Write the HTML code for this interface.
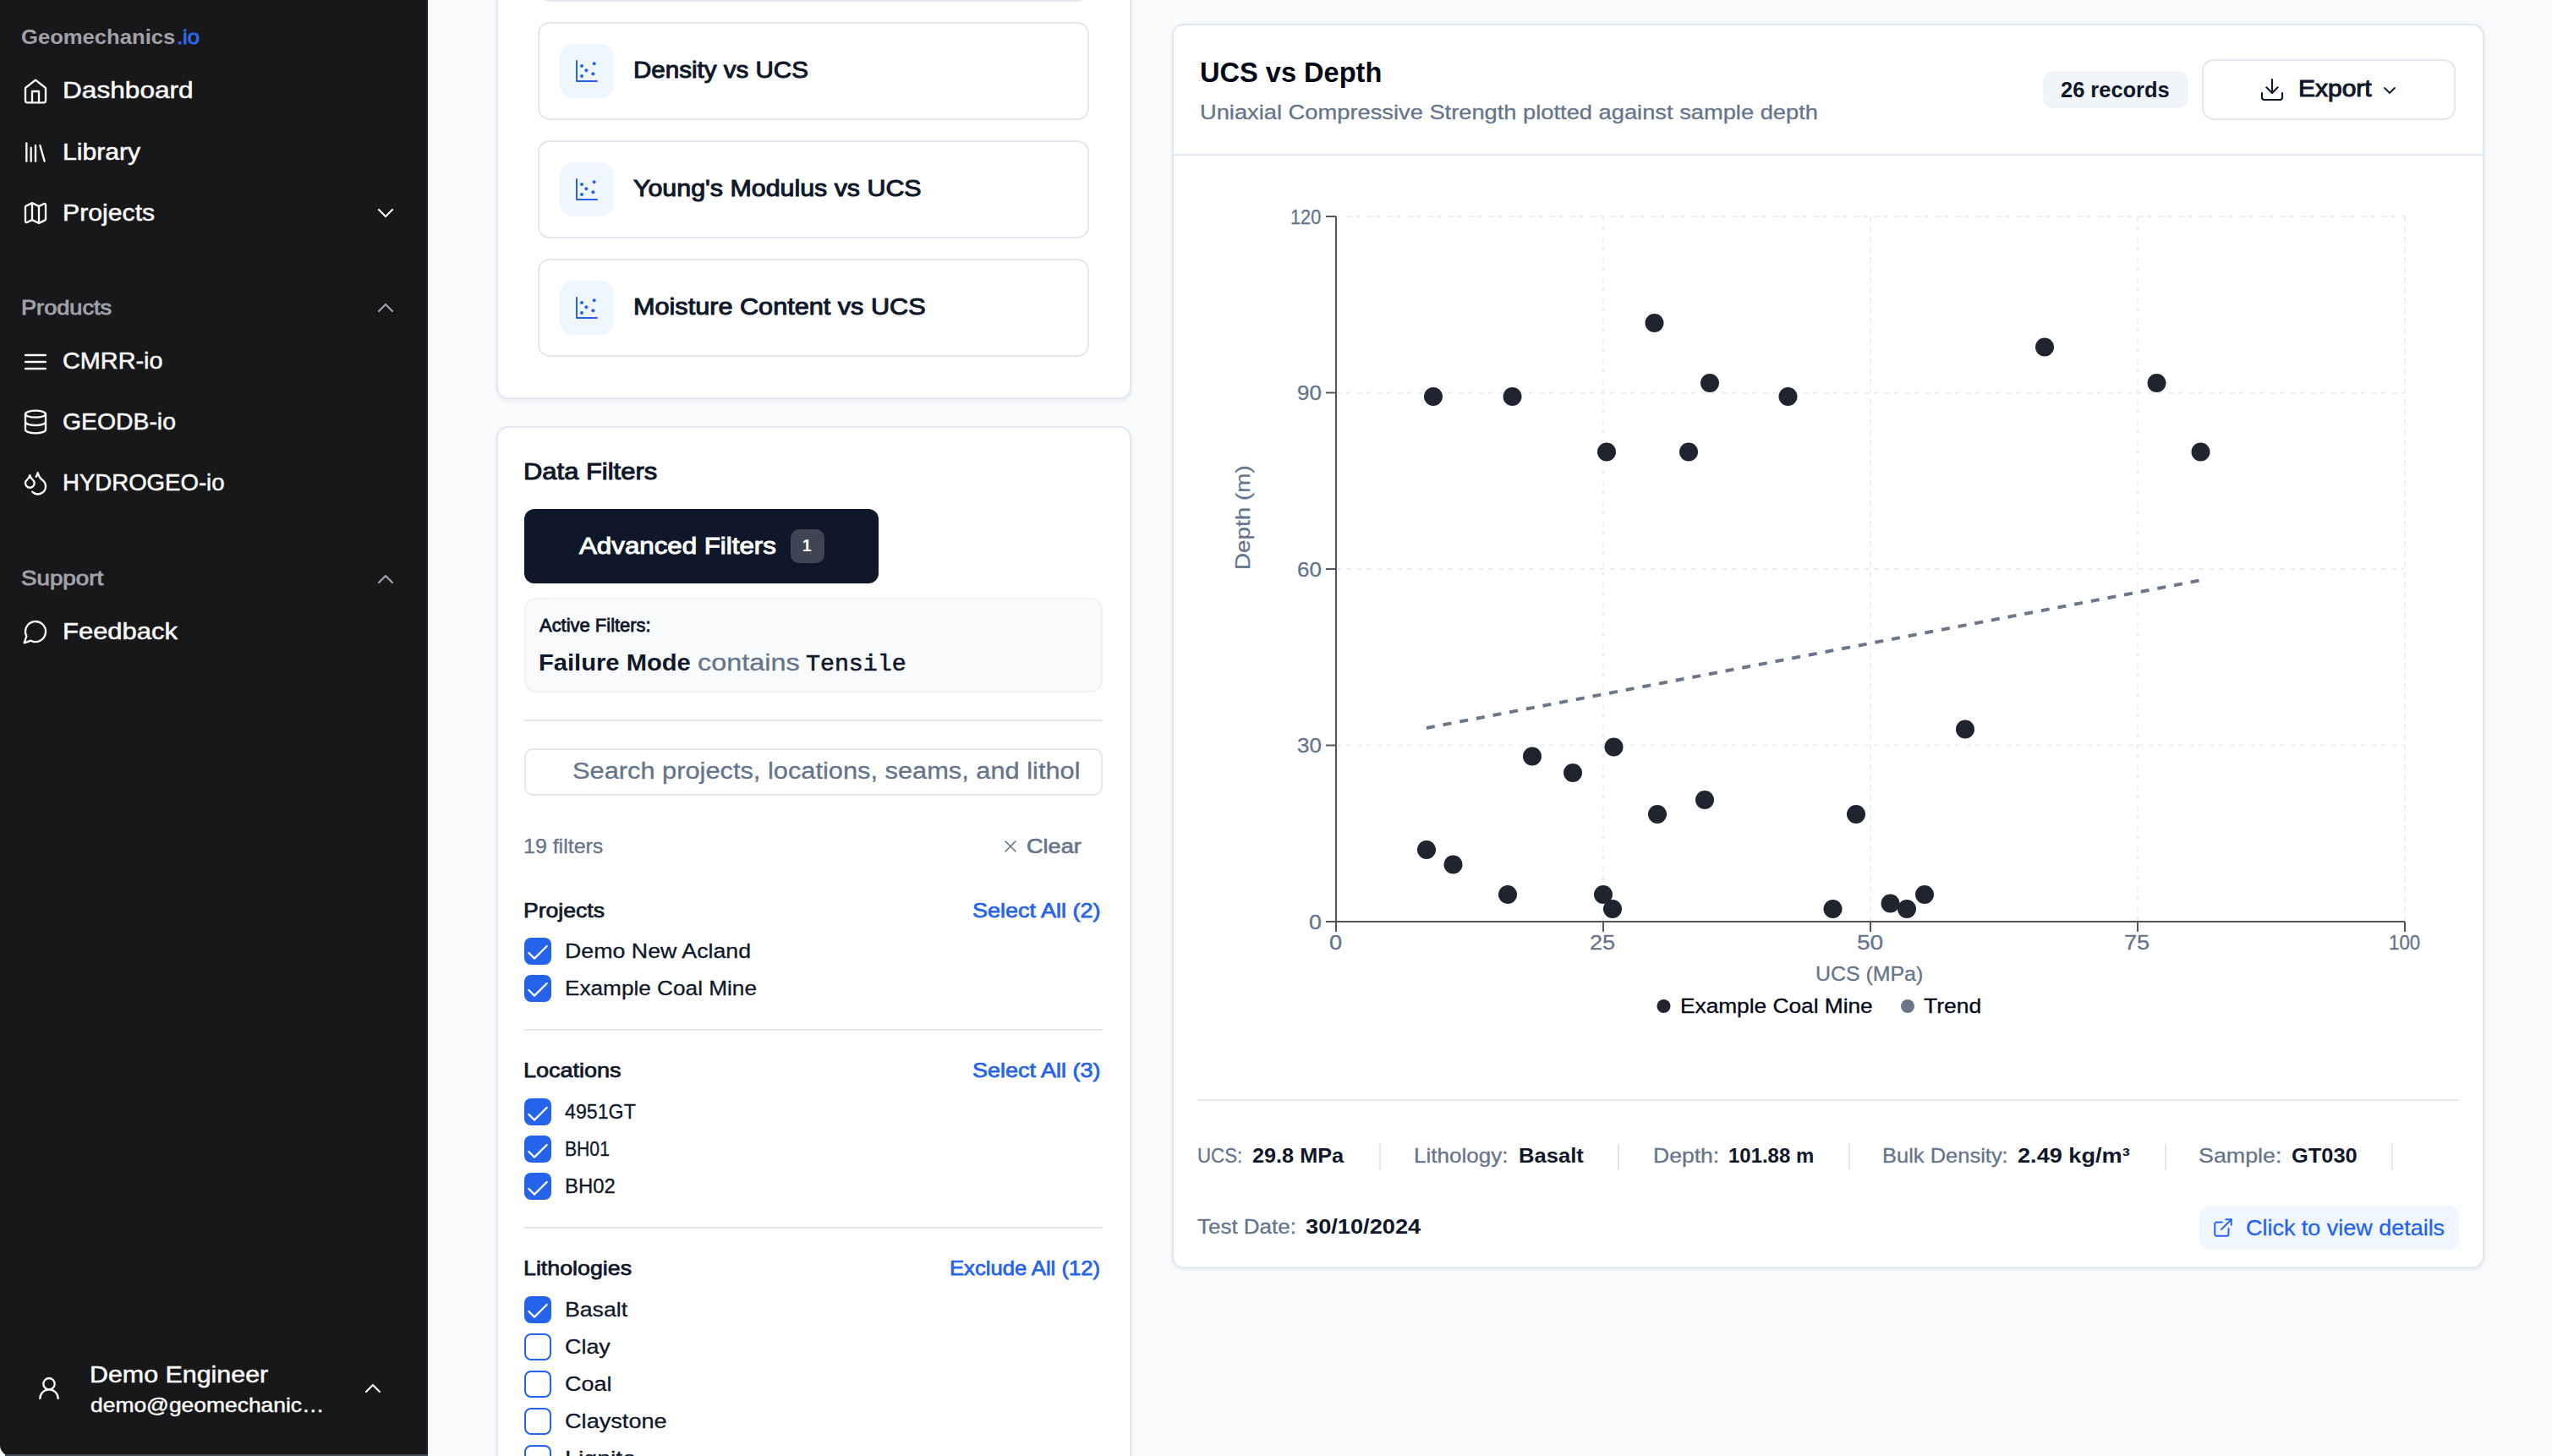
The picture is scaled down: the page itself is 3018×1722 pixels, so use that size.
<!DOCTYPE html>
<html lang="en">
<head>
<meta charset="utf-8">
<meta name="viewport" content="width=3018, initial-scale=1">
<title>Geomechanics.io – UCS vs Depth</title>
<style>
*{box-sizing:border-box;margin:0;padding:0}
html,body{width:3018px;height:1722px;overflow:hidden;background:#030712}
body{font-family:"Liberation Sans",Arial,sans-serif;-webkit-font-smoothing:antialiased}
.page{position:relative}
.abs,.t,.i{position:absolute}
.t{white-space:nowrap;font-weight:400;display:block;transform-origin:0 50%}
.i{display:block;overflow:visible}
</style>
</head>
<body>
<div class="page" style="width:3018px;height:1722px;background:#f8fafc;overflow:hidden;">
<aside class="abs" style="left:0px;top:0px;width:506px;height:1722px;background:#18181b;border-right:2px solid #1b2231;border-bottom-left-radius:13px;">
<span id="logo1" class="t" style="left:25.13px;top:27.61px;font-size:24.5px;line-height:32px;color:#a1a1aa;font-weight:700;transform:scaleX(1.0458);">Geomechanics</span>
<span id="logo2" class="t" style="left:209.33px;top:27.61px;font-size:24.5px;line-height:32px;color:#2f66ee;transform:scaleX(1.0467);-webkit-text-stroke:0.9px #2f66ee;">.io</span>
<svg class="i" style="left:26px;top:92px;color:#fafafa;" width="32" height="32" viewBox="0 0 24 24" fill="none" stroke="currentColor" stroke-width="1.75" stroke-linecap="round" stroke-linejoin="round"><path d="m3 9 9-7 9 7v11a2 2 0 0 1-2 2H5a2 2 0 0 1-2-2z"/><polyline points="9 22 9 12 15 12 15 22"/></svg>
<span id="nav_Dashboard" class="t" style="left:74.02px;top:89.3px;font-size:28px;line-height:36px;color:#fafafa;transform:scaleX(1.1293);-webkit-text-stroke:0.5px #fafafa;">Dashboard</span>
<svg class="i" style="left:26px;top:164.3px;color:#fafafa;" width="32" height="32" viewBox="0 0 24 24" fill="none" stroke="currentColor" stroke-width="1.75" stroke-linecap="round" stroke-linejoin="round"><path d="m16 6 4 14"/><path d="M12 6v14"/><path d="M8 8v12"/><path d="M4 4v16"/></svg>
<span id="nav_Library" class="t" style="left:74.02px;top:161.6px;font-size:28px;line-height:36px;color:#fafafa;transform:scaleX(1.076);-webkit-text-stroke:0.5px #fafafa;">Library</span>
<svg class="i" style="left:26px;top:236.3px;color:#fafafa;" width="32" height="32" viewBox="0 0 24 24" fill="none" stroke="currentColor" stroke-width="1.75" stroke-linecap="round" stroke-linejoin="round"><path d="M14.106 5.553a2 2 0 0 0 1.788 0l3.659-1.83A1 1 0 0 1 21 4.619v12.764a1 1 0 0 1-.553.894l-4.553 2.277a2 2 0 0 1-1.788 0l-4.212-2.106a2 2 0 0 0-1.788 0l-3.659 1.83A1 1 0 0 1 3 19.381V6.618a1 1 0 0 1 .553-.894l4.553-2.277a2 2 0 0 1 1.788 0z"/><path d="M15 5.764v15"/><path d="M9 3.236v15"/></svg>
<span id="nav_Projects" class="t" style="left:74.02px;top:233.6px;font-size:28px;line-height:36px;color:#fafafa;transform:scaleX(1.0795);-webkit-text-stroke:0.5px #fafafa;">Projects</span>
<svg class="i" style="left:440px;top:236px;color:#fafafa;" width="32" height="32" viewBox="0 0 24 24" fill="none" stroke="currentColor" stroke-width="1.6" stroke-linecap="round" stroke-linejoin="round"><path d="m6 9 6 6 6-6"/></svg>
<span id="lab_products" class="t" style="left:24.93px;top:347.51px;font-size:24.5px;line-height:32px;color:#a1a1aa;transform:scaleX(1.1077);-webkit-text-stroke:0.9px #a1a1aa;">Products</span>
<svg class="i" style="left:440px;top:348px;color:#a1a1aa;" width="32" height="32" viewBox="0 0 24 24" fill="none" stroke="currentColor" stroke-width="1.6" stroke-linecap="round" stroke-linejoin="round"><path d="m18 15-6-6-6 6"/></svg>
<svg class="i" style="left:26px;top:411.6px;color:#fafafa;" width="32" height="32" viewBox="0 0 24 24" fill="none" stroke="currentColor" stroke-width="1.75" stroke-linecap="round" stroke-linejoin="round"><line x1="3" x2="21" y1="12" y2="12"/><line x1="3" x2="21" y1="6" y2="6"/><line x1="3" x2="21" y1="18" y2="18"/></svg>
<span id="nav_CMRR-io" class="t" style="left:74.02px;top:409.4px;font-size:28px;line-height:36px;color:#fafafa;transform:scaleX(1.0295);-webkit-text-stroke:0.5px #fafafa;">CMRR-io</span>
<svg class="i" style="left:26px;top:483.1px;color:#fafafa;" width="32" height="32" viewBox="0 0 24 24" fill="none" stroke="currentColor" stroke-width="1.75" stroke-linecap="round" stroke-linejoin="round"><ellipse cx="12" cy="5" rx="9" ry="3"/><path d="M3 5V19A9 3 0 0 0 21 19V5"/><path d="M3 12A9 3 0 0 0 21 12"/></svg>
<span id="nav_GEODB-io" class="t" style="left:74.02px;top:480.9px;font-size:28px;line-height:36px;color:#fafafa;transform:scaleX(1.0125);-webkit-text-stroke:0.5px #fafafa;">GEODB-io</span>
<svg class="i" style="left:26px;top:555.2px;color:#fafafa;" width="32" height="32" viewBox="0 0 24 24" fill="none" stroke="currentColor" stroke-width="1.75" stroke-linecap="round" stroke-linejoin="round"><path d="M7 16.3c2.2 0 4-1.83 4-4.05 0-1.16-.57-2.26-1.71-3.19S7.29 6.75 7 5.3c-.29 1.45-1.14 2.84-2.29 3.76S3 11.1 3 12.25c0 2.22 1.8 4.05 4 4.05z"/><path d="M12.56 6.6A10.97 10.97 0 0 0 14 3.02c.5 2.5 2 4.9 4 6.5s3 3.5 3 5.5a6.98 6.98 0 0 1-11.91 4.97"/></svg>
<span id="nav_HYDROGEO-io" class="t" style="left:74.02px;top:553px;font-size:28px;line-height:36px;color:#fafafa;transform:scaleX(0.9852);-webkit-text-stroke:0.5px #fafafa;">HYDROGEO-io</span>
<span id="lab_support" class="t" style="left:24.93px;top:667.81px;font-size:24.5px;line-height:32px;color:#a1a1aa;transform:scaleX(1.1315);-webkit-text-stroke:0.9px #a1a1aa;">Support</span>
<svg class="i" style="left:440px;top:668.5px;color:#a1a1aa;" width="32" height="32" viewBox="0 0 24 24" fill="none" stroke="currentColor" stroke-width="1.6" stroke-linecap="round" stroke-linejoin="round"><path d="m18 15-6-6-6 6"/></svg>
<svg class="i" style="left:26px;top:730.6px;color:#fafafa;" width="32" height="32" viewBox="0 0 24 24" fill="none" stroke="currentColor" stroke-width="1.75" stroke-linecap="round" stroke-linejoin="round"><path d="M7.9 20A9 9 0 1 0 4 16.1L2 22Z"/></svg>
<span id="nav_Feedback" class="t" style="left:74.02px;top:729.2px;font-size:28px;line-height:36px;color:#fafafa;transform:scaleX(1.106);-webkit-text-stroke:0.5px #fafafa;">Feedback</span>
<svg class="i" style="left:42.2px;top:1626px;color:#fafafa;" width="32" height="32" viewBox="0 0 24 24" fill="none" stroke="currentColor" stroke-width="1.75" stroke-linecap="round" stroke-linejoin="round"><circle cx="12" cy="8" r="5"/><path d="M20 21a8 8 0 0 0-16 0"/></svg>
<span id="user1" class="t" style="left:106.32px;top:1607.8px;font-size:28px;line-height:36px;color:#fafafa;transform:scaleX(1.0855);-webkit-text-stroke:0.5px #fafafa;">Demo Engineer</span>
<span id="user2" class="t" style="left:106.53px;top:1646.11px;font-size:24.5px;line-height:32px;color:#fafafa;transform:scaleX(1.0784);-webkit-text-stroke:0.45px #fafafa;">demo@geomechanic…</span>
<svg class="i" style="left:424.5px;top:1626px;color:#fafafa;" width="32" height="32" viewBox="0 0 24 24" fill="none" stroke="currentColor" stroke-width="1.6" stroke-linecap="round" stroke-linejoin="round"><path d="m18 15-6-6-6 6"/></svg>
<div class="abs" style="left:6px;top:1720px;width:500px;height:2px;background:#454954;"></div>
</aside>
<section class="abs" style="left:587px;top:-40px;width:751px;height:512px;background:#fff;border:2px solid #e2e8f0;border-radius:14px;box-shadow:0 2px 5px rgba(15,23,42,.07);">
<div class="abs" style="left:47px;top:-76px;width:652px;height:116px;border:2px solid #e2e8f0;border-radius:14px;background:#fff;"></div>
<div class="abs" style="left:47px;top:64px;width:652px;height:116px;border:2px solid #e2e8f0;border-radius:14px;background:#fff;">
<div class="abs" style="left:24px;top:24px;width:64px;height:64px;background:#eff6ff;border-radius:16px;"></div>
<svg class="i" style="left:40px;top:40px;color:#2563eb;" width="32" height="32" viewBox="0 0 24 24" fill="none" stroke="currentColor" stroke-width="1.5" stroke-linecap="round" stroke-linejoin="round"><g fill="currentColor" stroke="none"><circle cx="7.5" cy="7.5" r="1.5"/><circle cx="18.5" cy="5.5" r="1.5"/><circle cx="11.5" cy="11.5" r="1.5"/><circle cx="7.5" cy="16.5" r="1.5"/><circle cx="17.5" cy="14.5" r="1.5"/></g><path d="M3 3v18h18"/></svg>
<span id="ct_Dens" class="t" style="left:111.42px;top:37.3px;font-size:28px;line-height:36px;color:#0f172a;transform:scaleX(1.0554);-webkit-text-stroke:1.0px #0f172a;">Density vs UCS</span>
</div>
<div class="abs" style="left:47px;top:204px;width:652px;height:116px;border:2px solid #e2e8f0;border-radius:14px;background:#fff;">
<div class="abs" style="left:24px;top:24px;width:64px;height:64px;background:#eff6ff;border-radius:16px;"></div>
<svg class="i" style="left:40px;top:40px;color:#2563eb;" width="32" height="32" viewBox="0 0 24 24" fill="none" stroke="currentColor" stroke-width="1.5" stroke-linecap="round" stroke-linejoin="round"><g fill="currentColor" stroke="none"><circle cx="7.5" cy="7.5" r="1.5"/><circle cx="18.5" cy="5.5" r="1.5"/><circle cx="11.5" cy="11.5" r="1.5"/><circle cx="7.5" cy="16.5" r="1.5"/><circle cx="17.5" cy="14.5" r="1.5"/></g><path d="M3 3v18h18"/></svg>
<span id="ct_Youn" class="t" style="left:111.42px;top:37.3px;font-size:28px;line-height:36px;color:#0f172a;transform:scaleX(1.0846);-webkit-text-stroke:1.0px #0f172a;">Young's Modulus vs UCS</span>
</div>
<div class="abs" style="left:47px;top:344px;width:652px;height:116px;border:2px solid #e2e8f0;border-radius:14px;background:#fff;">
<div class="abs" style="left:24px;top:24px;width:64px;height:64px;background:#eff6ff;border-radius:16px;"></div>
<svg class="i" style="left:40px;top:40px;color:#2563eb;" width="32" height="32" viewBox="0 0 24 24" fill="none" stroke="currentColor" stroke-width="1.5" stroke-linecap="round" stroke-linejoin="round"><g fill="currentColor" stroke="none"><circle cx="7.5" cy="7.5" r="1.5"/><circle cx="18.5" cy="5.5" r="1.5"/><circle cx="11.5" cy="11.5" r="1.5"/><circle cx="7.5" cy="16.5" r="1.5"/><circle cx="17.5" cy="14.5" r="1.5"/></g><path d="M3 3v18h18"/></svg>
<span id="ct_Mois" class="t" style="left:111.42px;top:37.3px;font-size:28px;line-height:36px;color:#0f172a;transform:scaleX(1.094);-webkit-text-stroke:1.0px #0f172a;">Moisture Content vs UCS</span>
</div>
</section>
<section class="abs" style="left:587px;top:504px;width:751px;height:1300px;background:#fff;border:2px solid #e2e8f0;border-radius:14px;box-shadow:0 2px 5px rgba(15,23,42,.07);">
<h3 id="df" class="t" style="left:29.72px;top:33.6px;font-size:28px;line-height:36px;color:#0f172a;transform:scaleX(1.1051);-webkit-text-stroke:1.0px #0f172a;">Data Filters</h3>
<div class="abs" style="left:31px;top:96px;width:419px;height:88px;background:#0f172a;border-radius:12px;">
<span id="advf" class="t" style="left:64.79px;top:24.82px;font-size:28.5px;line-height:37px;color:#fff;transform:scaleX(1.0972);-webkit-text-stroke:1.0px #fff;">Advanced Filters</span>
<div class="abs" style="left:315px;top:24px;width:40px;height:40px;background:#3f4553;border-radius:10px;"></div>
<span id="adv1" class="t" style="left:328.83px;top:30.94px;font-size:19.5px;line-height:25px;color:#fff;font-weight:700;">1</span>
</div>
<div class="abs" style="left:31px;top:200.5px;width:684px;height:112px;background:#f8fafc;border:2px solid #eef2f6;border-radius:14px;">
<span id="actf" class="t" style="left:15.68px;top:16.18px;font-size:22px;line-height:29px;color:#0f172a;transform:scaleX(0.9975);-webkit-text-stroke:0.8px #0f172a;">Active Filters:</span>
<span id="fm" class="t" style="left:15.32px;top:57px;font-size:28px;line-height:36px;color:#0f172a;font-weight:700;transform:scaleX(1.0411);">Failure Mode</span>
<span id="contains" class="t" style="left:203.12px;top:57px;font-size:28px;line-height:36px;color:#64748b;transform:scaleX(1.1573);-webkit-text-stroke:0.3px #64748b;">contains</span>
<span id="tensile" class="t" style="left:331.22px;top:59.24px;font-size:28px;line-height:36px;color:#0f172a;transform:scaleX(1.0091);-webkit-text-stroke:0.6px #0f172a;font-family:&quot;Liberation Mono&quot;,monospace;">Tensile</span>
</div>
<div class="abs" style="left:31px;top:345px;width:684px;height:2px;background:#e2e8f0;"></div>
<div class="abs" style="left:31px;top:379px;width:684px;height:56px;background:#fff;border:2px solid #e2e8f0;border-radius:10px;overflow:hidden;">
<div class="abs" style="left:48px;top:3px;width:608px;height:46px;overflow:hidden;">
<span id="search" class="t" style="left:6.88px;top:5.14px;font-size:27px;line-height:35px;color:#64748b;transform:scaleX(1.14);-webkit-text-stroke:0.3px #64748b;">Search projects, locations, seams, and lithologies</span>
</div>
</div>
<span id="nfil" class="t" style="left:29.93px;top:479.31px;font-size:24.5px;line-height:32px;color:#64748b;transform:scaleX(1.0184);-webkit-text-stroke:0.3px #64748b;">19 filters</span>
<svg class="i" style="left:593.5px;top:483px;color:#64748b;" width="24" height="24" viewBox="0 0 24 24" fill="none" stroke="currentColor" stroke-width="1.6" stroke-linecap="round" stroke-linejoin="round"><path d="M18 6 6 18"/><path d="m6 6 12 12"/></svg>
<span id="clear" class="t" style="left:624.73px;top:479.31px;font-size:24.5px;line-height:32px;color:#64748b;transform:scaleX(1.1051);-webkit-text-stroke:0.6px #64748b;">Clear</span>
<h4 id="g_proj" class="t" style="left:30.23px;top:554.81px;font-size:24.5px;line-height:32px;color:#0f172a;transform:scaleX(1.0846);-webkit-text-stroke:0.75px #0f172a;">Projects</h4>
<span id="a_proj" class="t" style="left:560.83px;top:554.81px;font-size:24.5px;line-height:32px;color:#2563eb;transform:scaleX(1.1023);-webkit-text-stroke:0.75px #2563eb;">Select All (2)</span>
<div class="abs cb" style="left:31px;top:603px;width:32px;height:32px;background:#2563eb;border-radius:8px;"></div>
<svg class="i" style="left:31px;top:605.2px;color:#fff;" width="32" height="32" viewBox="0 0 24 24" fill="none" stroke="currentColor" stroke-width="1.7" stroke-linecap="round" stroke-linejoin="round"><path d="M20 6 9 17l-5-5"/></svg>
<span id="cb_proj_DemoNewAcland" class="t" style="left:78.53px;top:602.51px;font-size:24.5px;line-height:32px;color:#0f172a;transform:scaleX(1.0921);-webkit-text-stroke:0.3px #0f172a;">Demo New Acland</span>
<div class="abs cb" style="left:31px;top:647px;width:32px;height:32px;background:#2563eb;border-radius:8px;"></div>
<svg class="i" style="left:31px;top:649.2px;color:#fff;" width="32" height="32" viewBox="0 0 24 24" fill="none" stroke="currentColor" stroke-width="1.7" stroke-linecap="round" stroke-linejoin="round"><path d="M20 6 9 17l-5-5"/></svg>
<span id="cb_proj_ExampleCoalMine" class="t" style="left:78.53px;top:646.51px;font-size:24.5px;line-height:32px;color:#0f172a;transform:scaleX(1.0685);-webkit-text-stroke:0.3px #0f172a;">Example Coal Mine</span>
<div class="abs" style="left:31px;top:710.5px;width:684px;height:2px;background:#e2e8f0;"></div>
<h4 id="g_loc" class="t" style="left:30.23px;top:744.41px;font-size:24.5px;line-height:32px;color:#0f172a;transform:scaleX(1.1021);-webkit-text-stroke:0.75px #0f172a;">Locations</h4>
<span id="a_loc" class="t" style="left:560.83px;top:744.41px;font-size:24.5px;line-height:32px;color:#2563eb;transform:scaleX(1.1023);-webkit-text-stroke:0.75px #2563eb;">Select All (3)</span>
<div class="abs cb" style="left:31px;top:793.3px;width:32px;height:32px;background:#2563eb;border-radius:8px;"></div>
<svg class="i" style="left:31px;top:795.5px;color:#fff;" width="32" height="32" viewBox="0 0 24 24" fill="none" stroke="currentColor" stroke-width="1.7" stroke-linecap="round" stroke-linejoin="round"><path d="M20 6 9 17l-5-5"/></svg>
<span id="cb_loc_4951GT" class="t" style="left:78.53px;top:792.81px;font-size:24.5px;line-height:32px;color:#0f172a;transform:scaleX(0.9466);-webkit-text-stroke:0.3px #0f172a;">4951GT</span>
<div class="abs cb" style="left:31px;top:837.3px;width:32px;height:32px;background:#2563eb;border-radius:8px;"></div>
<svg class="i" style="left:31px;top:839.5px;color:#fff;" width="32" height="32" viewBox="0 0 24 24" fill="none" stroke="currentColor" stroke-width="1.7" stroke-linecap="round" stroke-linejoin="round"><path d="M20 6 9 17l-5-5"/></svg>
<span id="cb_loc_BH01" class="t" style="left:78.53px;top:836.81px;font-size:24.5px;line-height:32px;color:#0f172a;transform:scaleX(0.863);-webkit-text-stroke:0.3px #0f172a;">BH01</span>
<div class="abs cb" style="left:31px;top:881.3px;width:32px;height:32px;background:#2563eb;border-radius:8px;"></div>
<svg class="i" style="left:31px;top:883.5px;color:#fff;" width="32" height="32" viewBox="0 0 24 24" fill="none" stroke="currentColor" stroke-width="1.7" stroke-linecap="round" stroke-linejoin="round"><path d="M20 6 9 17l-5-5"/></svg>
<span id="cb_loc_BH02" class="t" style="left:78.53px;top:880.81px;font-size:24.5px;line-height:32px;color:#0f172a;transform:scaleX(0.9756);-webkit-text-stroke:0.3px #0f172a;">BH02</span>
<div class="abs" style="left:31px;top:944.5px;width:684px;height:2px;background:#e2e8f0;"></div>
<h4 id="g_lith" class="t" style="left:30.23px;top:978.41px;font-size:24.5px;line-height:32px;color:#0f172a;transform:scaleX(1.0936);-webkit-text-stroke:0.75px #0f172a;">Lithologies</h4>
<span id="a_lith" class="t" style="left:534.43px;top:978.41px;font-size:24.5px;line-height:32px;color:#2563eb;transform:scaleX(1.0456);-webkit-text-stroke:0.75px #2563eb;">Exclude All (12)</span>
<div class="abs cb" style="left:31px;top:1027px;width:32px;height:32px;background:#2563eb;border-radius:8px;"></div>
<svg class="i" style="left:31px;top:1029.2px;color:#fff;" width="32" height="32" viewBox="0 0 24 24" fill="none" stroke="currentColor" stroke-width="1.7" stroke-linecap="round" stroke-linejoin="round"><path d="M20 6 9 17l-5-5"/></svg>
<span id="cb_lith_Basalt" class="t" style="left:78.53px;top:1026.51px;font-size:24.5px;line-height:32px;color:#0f172a;transform:scaleX(1.0882);-webkit-text-stroke:0.3px #0f172a;">Basalt</span>
<div class="abs cb" style="left:31px;top:1071px;width:32px;height:32px;background:#fff;border:2px solid #2563eb;border-radius:8px;"></div>
<span id="cb_lith_Clay" class="t" style="left:78.53px;top:1070.51px;font-size:24.5px;line-height:32px;color:#0f172a;transform:scaleX(1.0976);-webkit-text-stroke:0.3px #0f172a;">Clay</span>
<div class="abs cb" style="left:31px;top:1115px;width:32px;height:32px;background:#fff;border:2px solid #2563eb;border-radius:8px;"></div>
<span id="cb_lith_Coal" class="t" style="left:78.53px;top:1114.51px;font-size:24.5px;line-height:32px;color:#0f172a;transform:scaleX(1.0994);-webkit-text-stroke:0.3px #0f172a;">Coal</span>
<div class="abs cb" style="left:31px;top:1159px;width:32px;height:32px;background:#fff;border:2px solid #2563eb;border-radius:8px;"></div>
<span id="cb_lith_Claystone" class="t" style="left:78.53px;top:1158.51px;font-size:24.5px;line-height:32px;color:#0f172a;transform:scaleX(1.1078);-webkit-text-stroke:0.3px #0f172a;">Claystone</span>
<div class="abs cb" style="left:31px;top:1203px;width:32px;height:32px;background:#fff;border:2px solid #2563eb;border-radius:8px;"></div>
<span id="cb_lith_Lignite" class="t" style="left:78.53px;top:1202.51px;font-size:24.5px;line-height:32px;color:#0f172a;transform:scaleX(1.1662);-webkit-text-stroke:0.3px #0f172a;">Lignite</span>
</section>
<section class="abs" style="left:1386px;top:28px;width:1552px;height:1472px;background:#fff;border:2px solid #e2e8f0;border-radius:14px;box-shadow:0 2px 5px rgba(15,23,42,.07);">
<h2 id="title" class="t" style="left:30.79px;top:33.79px;font-size:33.5px;line-height:44px;color:#020617;font-weight:700;transform:scaleX(0.9719);">UCS vs Depth</h2>
<span id="sub" class="t" style="left:31.33px;top:87.11px;font-size:24.5px;line-height:32px;color:#64748b;transform:scaleX(1.1135);-webkit-text-stroke:0.3px #64748b;">Uniaxial Compressive Strength plotted against sample depth</span>
<div class="abs" style="left:1028px;top:54px;width:172px;height:44px;background:#f1f5f9;border-radius:12px;"></div>
<span id="rec" class="t" style="left:1048.5px;top:59.59px;font-size:25px;line-height:32px;color:#0f172a;font-weight:700;transform:scaleX(1.0176);">26 records</span>
<div class="abs" style="left:1216px;top:40px;width:300px;height:72px;background:#fff;border:2px solid #e2e8f0;border-radius:14px;">
<svg class="i" style="left:65px;top:18px;color:#0f172a;" width="32" height="32" viewBox="0 0 24 24" fill="none" stroke="currentColor" stroke-width="1.6" stroke-linecap="round" stroke-linejoin="round"><path d="M21 15v4a2 2 0 0 1-2 2H5a2 2 0 0 1-2-2v-4"/><polyline points="7 10 12 15 17 10"/><line x1="12" x2="12" y1="15" y2="3"/></svg>
<span id="export" class="t" style="left:111.82px;top:15.3px;font-size:28px;line-height:36px;color:#0f172a;transform:scaleX(1.0712);-webkit-text-stroke:1.0px #0f172a;">Export</span>
<svg class="i" style="left:207.5px;top:22.5px;color:#0f172a;" width="24" height="24" viewBox="0 0 24 24" fill="none" stroke="currentColor" stroke-width="1.8" stroke-linecap="round" stroke-linejoin="round"><path d="m6 9 6 6 6-6"/></svg>
</div>
<div class="abs" style="left:0px;top:152px;width:1548px;height:2px;background:#e2e8f0;"></div>
<svg class="i" style="left:0px;top:160px" width="1548" height="1000" viewBox="1388 190 1548 1000">
<g stroke="#ebf0f4" stroke-width="2" stroke-dasharray="6 6" fill="none">
<line x1="1580" x2="2844" y1="256" y2="256"/>
<line x1="1580" x2="2844" y1="464.5" y2="464.5"/>
<line x1="1580" x2="2844" y1="673" y2="673"/>
<line x1="1580" x2="2844" y1="881.5" y2="881.5"/>
<line x1="1896" x2="1896" y1="256" y2="1090"/>
<line x1="2212" x2="2212" y1="256" y2="1090"/>
<line x1="2528" x2="2528" y1="256" y2="1090"/>
<line x1="2844" x2="2844" y1="256" y2="1090"/>
</g>
<g stroke="#52555b" stroke-width="2" fill="none">
<path d="M1580 256V1090H2844"/>
<line x1="1568" x2="1580" y1="256" y2="256"/>
<line x1="1568" x2="1580" y1="464.5" y2="464.5"/>
<line x1="1568" x2="1580" y1="673" y2="673"/>
<line x1="1568" x2="1580" y1="881.5" y2="881.5"/>
<line x1="1568" x2="1580" y1="1090" y2="1090"/>
<line x1="1580" x2="1580" y1="1090" y2="1102"/>
<line x1="1896" x2="1896" y1="1090" y2="1102"/>
<line x1="2212" x2="2212" y1="1090" y2="1102"/>
<line x1="2528" x2="2528" y1="1090" y2="1102"/>
<line x1="2844" x2="2844" y1="1090" y2="1102"/>
</g>
<line x1="1687" y1="861" x2="2601" y2="686.5" stroke="#6b7789" stroke-width="4" stroke-dasharray="10 10"/>
<g fill="#20242f">
<circle cx="1695" cy="469" r="11"/>
<circle cx="1788.5" cy="469" r="11"/>
<circle cx="1956.5" cy="382" r="11"/>
<circle cx="2022" cy="453" r="11"/>
<circle cx="2114.5" cy="469" r="11"/>
<circle cx="1900" cy="534.5" r="11"/>
<circle cx="1997" cy="534.5" r="11"/>
<circle cx="2418" cy="410.5" r="11"/>
<circle cx="2550.5" cy="453" r="11"/>
<circle cx="2602.5" cy="534.5" r="11"/>
<circle cx="2324" cy="862.5" r="11"/>
<circle cx="1908.5" cy="883.5" r="11"/>
<circle cx="1812" cy="894.5" r="11"/>
<circle cx="1860" cy="914" r="11"/>
<circle cx="2016" cy="946" r="11"/>
<circle cx="1960" cy="963" r="11"/>
<circle cx="2195" cy="963" r="11"/>
<circle cx="1687" cy="1005" r="11"/>
<circle cx="1718.5" cy="1022.5" r="11"/>
<circle cx="1783" cy="1058" r="11"/>
<circle cx="1896" cy="1058" r="11"/>
<circle cx="1907" cy="1075" r="11"/>
<circle cx="2167.5" cy="1075" r="11"/>
<circle cx="2235.5" cy="1068.5" r="11"/>
<circle cx="2255" cy="1075" r="11"/>
<circle cx="2276" cy="1058" r="11"/>
</g>
<circle cx="1967.5" cy="1190" r="8" fill="#20242f"/><circle cx="2256" cy="1190" r="8" fill="#6b7588"/>
</svg>
<span id="yt120" class="t" style="left:138.26px;top:210.88px;font-size:24px;line-height:31px;color:#64748b;transform:scaleX(0.9039);-webkit-text-stroke:0.3px #64748b;">120</span>
<span id="yt90" class="t" style="left:145.56px;top:419.38px;font-size:24px;line-height:31px;color:#64748b;transform:scaleX(1.0823);-webkit-text-stroke:0.3px #64748b;">90</span>
<span id="yt60" class="t" style="left:145.56px;top:627.88px;font-size:24px;line-height:31px;color:#64748b;transform:scaleX(1.0823);-webkit-text-stroke:0.3px #64748b;">60</span>
<span id="yt30" class="t" style="left:145.56px;top:836.38px;font-size:24px;line-height:31px;color:#64748b;transform:scaleX(1.0823);-webkit-text-stroke:0.3px #64748b;">30</span>
<span id="yt0" class="t" style="left:159.56px;top:1044.88px;font-size:24px;line-height:31px;color:#64748b;transform:scaleX(1.1153);-webkit-text-stroke:0.3px #64748b;">0</span>
<span id="xt0" class="t" style="left:183.56px;top:1069.18px;font-size:24px;line-height:31px;color:#64748b;transform:scaleX(1.1378);-webkit-text-stroke:0.3px #64748b;">0</span>
<span id="xt25" class="t" style="left:492.06px;top:1069.18px;font-size:24px;line-height:31px;color:#64748b;transform:scaleX(1.131);-webkit-text-stroke:0.3px #64748b;">25</span>
<span id="xt50" class="t" style="left:807.56px;top:1069.18px;font-size:24px;line-height:31px;color:#64748b;transform:scaleX(1.1684);-webkit-text-stroke:0.3px #64748b;">50</span>
<span id="xt75" class="t" style="left:1124.06px;top:1069.18px;font-size:24px;line-height:31px;color:#64748b;transform:scaleX(1.131);-webkit-text-stroke:0.3px #64748b;">75</span>
<span id="xt100" class="t" style="left:1436.56px;top:1069.18px;font-size:24px;line-height:31px;color:#64748b;transform:scaleX(0.9289);-webkit-text-stroke:0.3px #64748b;">100</span>
<span id="xlab" class="t" style="left:758.56px;top:1105.68px;font-size:24px;line-height:31px;color:#64748b;transform:scaleX(1.0369);-webkit-text-stroke:0.3px #64748b;">UCS (MPa)</span>
<span id="ylab" class="t" style="left:65.68px;top:643.94px;font-size:24px;line-height:31px;color:#64748b;-webkit-text-stroke:0.3px #64748b;transform-origin:0 0;transform:rotate(-90deg) scaleX(1.1595);">Depth (m)</span>
<span id="leg1" class="t" style="left:599.03px;top:1143.51px;font-size:24.5px;line-height:32px;color:#020617;transform:scaleX(1.0718);-webkit-text-stroke:0.3px #020617;">Example Coal Mine</span>
<span id="leg2" class="t" style="left:886.53px;top:1143.51px;font-size:24.5px;line-height:32px;color:#020617;transform:scaleX(1.0809);-webkit-text-stroke:0.3px #020617;">Trend</span>
<div class="abs" style="left:28px;top:1269.5px;width:1492px;height:2px;background:#e2e8f0;"></div>
<span id="dl0" class="t" style="left:27.63px;top:1321.11px;font-size:24.5px;line-height:32px;color:#64748b;transform:scaleX(0.9087);-webkit-text-stroke:0.3px #64748b;">UCS:</span>
<span id="dv0" class="t" style="left:92.83px;top:1321.11px;font-size:24.5px;line-height:32px;color:#0f172a;font-weight:700;transform:scaleX(1.0308);">29.8 MPa</span>
<div class="abs" style="left:243px;top:1322.5px;width:2px;height:31px;background:#e2e8f0;"></div>
<span id="dl1" class="t" style="left:283.73px;top:1321.11px;font-size:24.5px;line-height:32px;color:#64748b;transform:scaleX(1.064);-webkit-text-stroke:0.3px #64748b;">Lithology:</span>
<span id="dv1" class="t" style="left:407.73px;top:1321.11px;font-size:24.5px;line-height:32px;color:#0f172a;font-weight:700;transform:scaleX(1.0456);">Basalt</span>
<div class="abs" style="left:525px;top:1322.5px;width:2px;height:31px;background:#e2e8f0;"></div>
<span id="dl2" class="t" style="left:566.53px;top:1321.11px;font-size:24.5px;line-height:32px;color:#64748b;transform:scaleX(1.0833);-webkit-text-stroke:0.3px #64748b;">Depth:</span>
<span id="dv2" class="t" style="left:655.53px;top:1321.11px;font-size:24.5px;line-height:32px;color:#0f172a;font-weight:700;transform:scaleX(0.9775);">101.88 m</span>
<div class="abs" style="left:798px;top:1322.5px;width:2px;height:31px;background:#e2e8f0;"></div>
<span id="dl3" class="t" style="left:838.03px;top:1321.11px;font-size:24.5px;line-height:32px;color:#64748b;transform:scaleX(1.0401);-webkit-text-stroke:0.3px #64748b;">Bulk Density:</span>
<span id="dv3" class="t" style="left:998.03px;top:1321.11px;font-size:24.5px;line-height:32px;color:#0f172a;font-weight:700;transform:scaleX(1.1073);">2.49 kg/m³</span>
<div class="abs" style="left:1172px;top:1322.5px;width:2px;height:31px;background:#e2e8f0;"></div>
<span id="dl4" class="t" style="left:1212.13px;top:1321.11px;font-size:24.5px;line-height:32px;color:#64748b;transform:scaleX(1.0947);-webkit-text-stroke:0.3px #64748b;">Sample:</span>
<span id="dv4" class="t" style="left:1321.73px;top:1321.11px;font-size:24.5px;line-height:32px;color:#0f172a;font-weight:700;transform:scaleX(1.0373);">GT030</span>
<div class="abs" style="left:1440px;top:1322.5px;width:2px;height:31px;background:#e2e8f0;"></div>
<span id="dl5" class="t" style="left:27.63px;top:1405.01px;font-size:24.5px;line-height:32px;color:#64748b;transform:scaleX(1.0597);-webkit-text-stroke:0.3px #64748b;">Test Date:</span>
<span id="dv5" class="t" style="left:156.43px;top:1405.01px;font-size:24.5px;line-height:32px;color:#0f172a;font-weight:700;transform:scaleX(1.1107);">30/10/2024</span>
<div class="abs" style="left:1213px;top:1396px;width:307px;height:52px;background:#eff6ff;border-radius:12px;">
<svg class="i" style="left:15px;top:13px;color:#2563eb;" width="26" height="26" viewBox="0 0 24 24" fill="none" stroke="currentColor" stroke-width="1.8" stroke-linecap="round" stroke-linejoin="round"><path d="M15 3h6v6"/><path d="M10 14 21 3"/><path d="M18 13v6a2 2 0 0 1-2 2H5a2 2 0 0 1-2-2V8a2 2 0 0 1 2-2h6"/></svg>
<span id="cta" class="t" style="left:54.84px;top:8.89px;font-size:26px;line-height:34px;color:#2563eb;transform:scaleX(1.0363);-webkit-text-stroke:0.3px #2563eb;">Click to view details</span>
</div>
</section>
</div>
</body>
</html>
